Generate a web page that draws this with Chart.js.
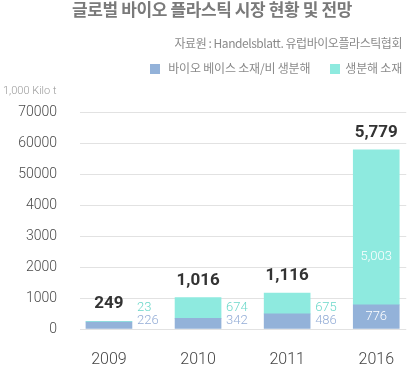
<!DOCTYPE html>
<html>
<head>
<meta charset="utf-8">
<script src="https://cdn.jsdelivr.net/npm/chart.js@4/dist/chart.umd.min.js"></script>
<style>
  body { margin: 0; background: #fff; }
  #wrap { position: relative; width: 407px; height: 365px; overflow: hidden; }
  #chart { position: absolute; left: 0; top: 0; }
  .txt { position: absolute; font-family: "Noto Sans CJK KR", "Noto Sans", sans-serif; white-space: nowrap; }
  #title { top: -4px; left: 0; width: 424px; text-align: center; font-size: 17px; font-weight: 700; color: #7a7a7a; letter-spacing: -0.4px; }
  #source { top: 34px; right: 5px; font-size: 12px; color: #8a8a8a; letter-spacing: -0.45px; }
  #legend { top: 59px; right: 5px; font-size: 12px; color: #8a8a8a; letter-spacing: -0.2px; }
  #legend span.box { display: inline-block; width: 10px; height: 10px; margin-right: 8px; vertical-align: -1px; }
  #unit { top: 84px; left: 3px; font-size: 11px; color: #9a9a9a; font-family: Roboto, sans-serif; font-weight: 300; }
</style>
</head>
<body>
<div id="wrap">
  <canvas id="chart" width="407" height="365"></canvas>
  <div class="txt" id="title">글로벌 바이오 플라스틱 시장 현황 및 전망</div>
  <div class="txt" id="source">자료원 : Handelsblatt. 유럽바이오플라스틱협회</div>
  <div class="txt" id="legend"><span class="box" style="background:#93b2d9"></span>바이오 베이스 소재/비 생분해<span style="display:inline-block;width:20px"></span><span class="box" style="background:#8eeadf;margin-right:5px"></span>생분해 소재</div>
  <div class="txt" id="unit">1,000 Kilo t</div>
</div>
<script>
// data
const years = ["2009", "2010", "2011", "2016"];
const bioBased = [226, 342, 486, 776];
const biodegradable = [23, 674, 675, 5003];
const totals = [249, 1016, 1116, 5779];
const yTickLabels = ["0", "1000", "2000", "3000", "4000", "50000", "60000", "70000"];

const blue = "#93b2d9";
const teal = "#8eeadf";

// value labels: totals above, parts beside (small bars) or inside (tall bars)
const valueLabels = {
  id: "valueLabels",
  afterDatasetsDraw(chart) {
    const ctx = chart.ctx;
    const m0 = chart.getDatasetMeta(0);
    const m1 = chart.getDatasetMeta(1);
    const zeroY = chart.scales.y.getPixelForValue(0);
    ctx.save();
    for (let i = 0; i < years.length; i++) {
      const b0 = m0.data[i];
      const b1 = m1.data[i];
      const fmt = (v) => v.toLocaleString("en-US");

      ctx.font = "700 17px Roboto, sans-serif";
      ctx.fillStyle = "#333";
      ctx.textAlign = "center";
      ctx.textBaseline = "alphabetic";
      ctx.fillText(fmt(totals[i]), b1.x, b1.y - 13);

      ctx.font = "300 13px Roboto, sans-serif";
      ctx.textBaseline = "middle";
      if (zeroY - b1.y > 100) {
        ctx.fillStyle = "#fff";
        ctx.textAlign = "center";
        ctx.fillText(fmt(biodegradable[i]), b1.x, b1.base - (b1.base - b1.y) * 0.31);
        ctx.fillText(fmt(bioBased[i]), b0.x, (b0.y + b0.base) / 2);
      } else {
        const lx = b0.x + b0.width / 2 + 5;
        ctx.textAlign = "left";
        ctx.fillStyle = "#6cd8ca";
        ctx.fillText(fmt(biodegradable[i]), lx, zeroY - 21);
        ctx.fillStyle = "#93acd6";
        ctx.fillText(fmt(bioBased[i]), lx, zeroY - 8);
      }
    }
    ctx.restore();
  },
};

new Chart(document.getElementById("chart"), {
  type: "bar",
  data: {
    datasets: [
      {
        label: "바이오 베이스 소재/비 생분해",
        data: bioBased.map((v, i) => ({ x: i, y: v })),
        backgroundColor: blue,
        barThickness: 46,
      },
      {
        label: "생분해 소재",
        data: biodegradable.map((v, i) => ({ x: i, y: v })),
        backgroundColor: teal,
        barThickness: 46,
      },
    ],
  },
  options: {
    responsive: false,
    animation: false,
    devicePixelRatio: 1,
    layout: { padding: { top: 112, left: 0, right: 0, bottom: 0 } },
    plugins: {
      legend: { display: false },
      tooltip: { enabled: false },
    },
    scales: {
      x: {
        type: "linear",
        stacked: true,
        offset: false,
        min: -0.325,
        max: 3.337,
        grid: { display: false, offset: false },
        border: { display: false },
        afterBuildTicks: (s) => { s.ticks = years.map((_, i) => ({ value: i })); },
        afterFit: (s) => { s.height = 36; },
        ticks: {
          padding: 13,
          maxRotation: 0,
          autoSkip: false,
          color: "#444",
          font: { family: "Roboto", size: 16, weight: "300" },
          callback: (v) => years[v],
        },
      },
      y: {
        stacked: true,
        min: 0,
        max: 7000,
        grid: { color: "#e2e2e2", drawTicks: false },
        border: { display: false },
        afterFit: (s) => { s.width = 80; },
        ticks: {
          stepSize: 1000,
          padding: 23,
          color: "#4a4a4a",
          font: { family: "Roboto", size: 14, weight: "300" },
          callback: (v, idx) => yTickLabels[idx],
        },
      },
    },
  },
  plugins: [valueLabels],
});
</script>
</body>
</html>
